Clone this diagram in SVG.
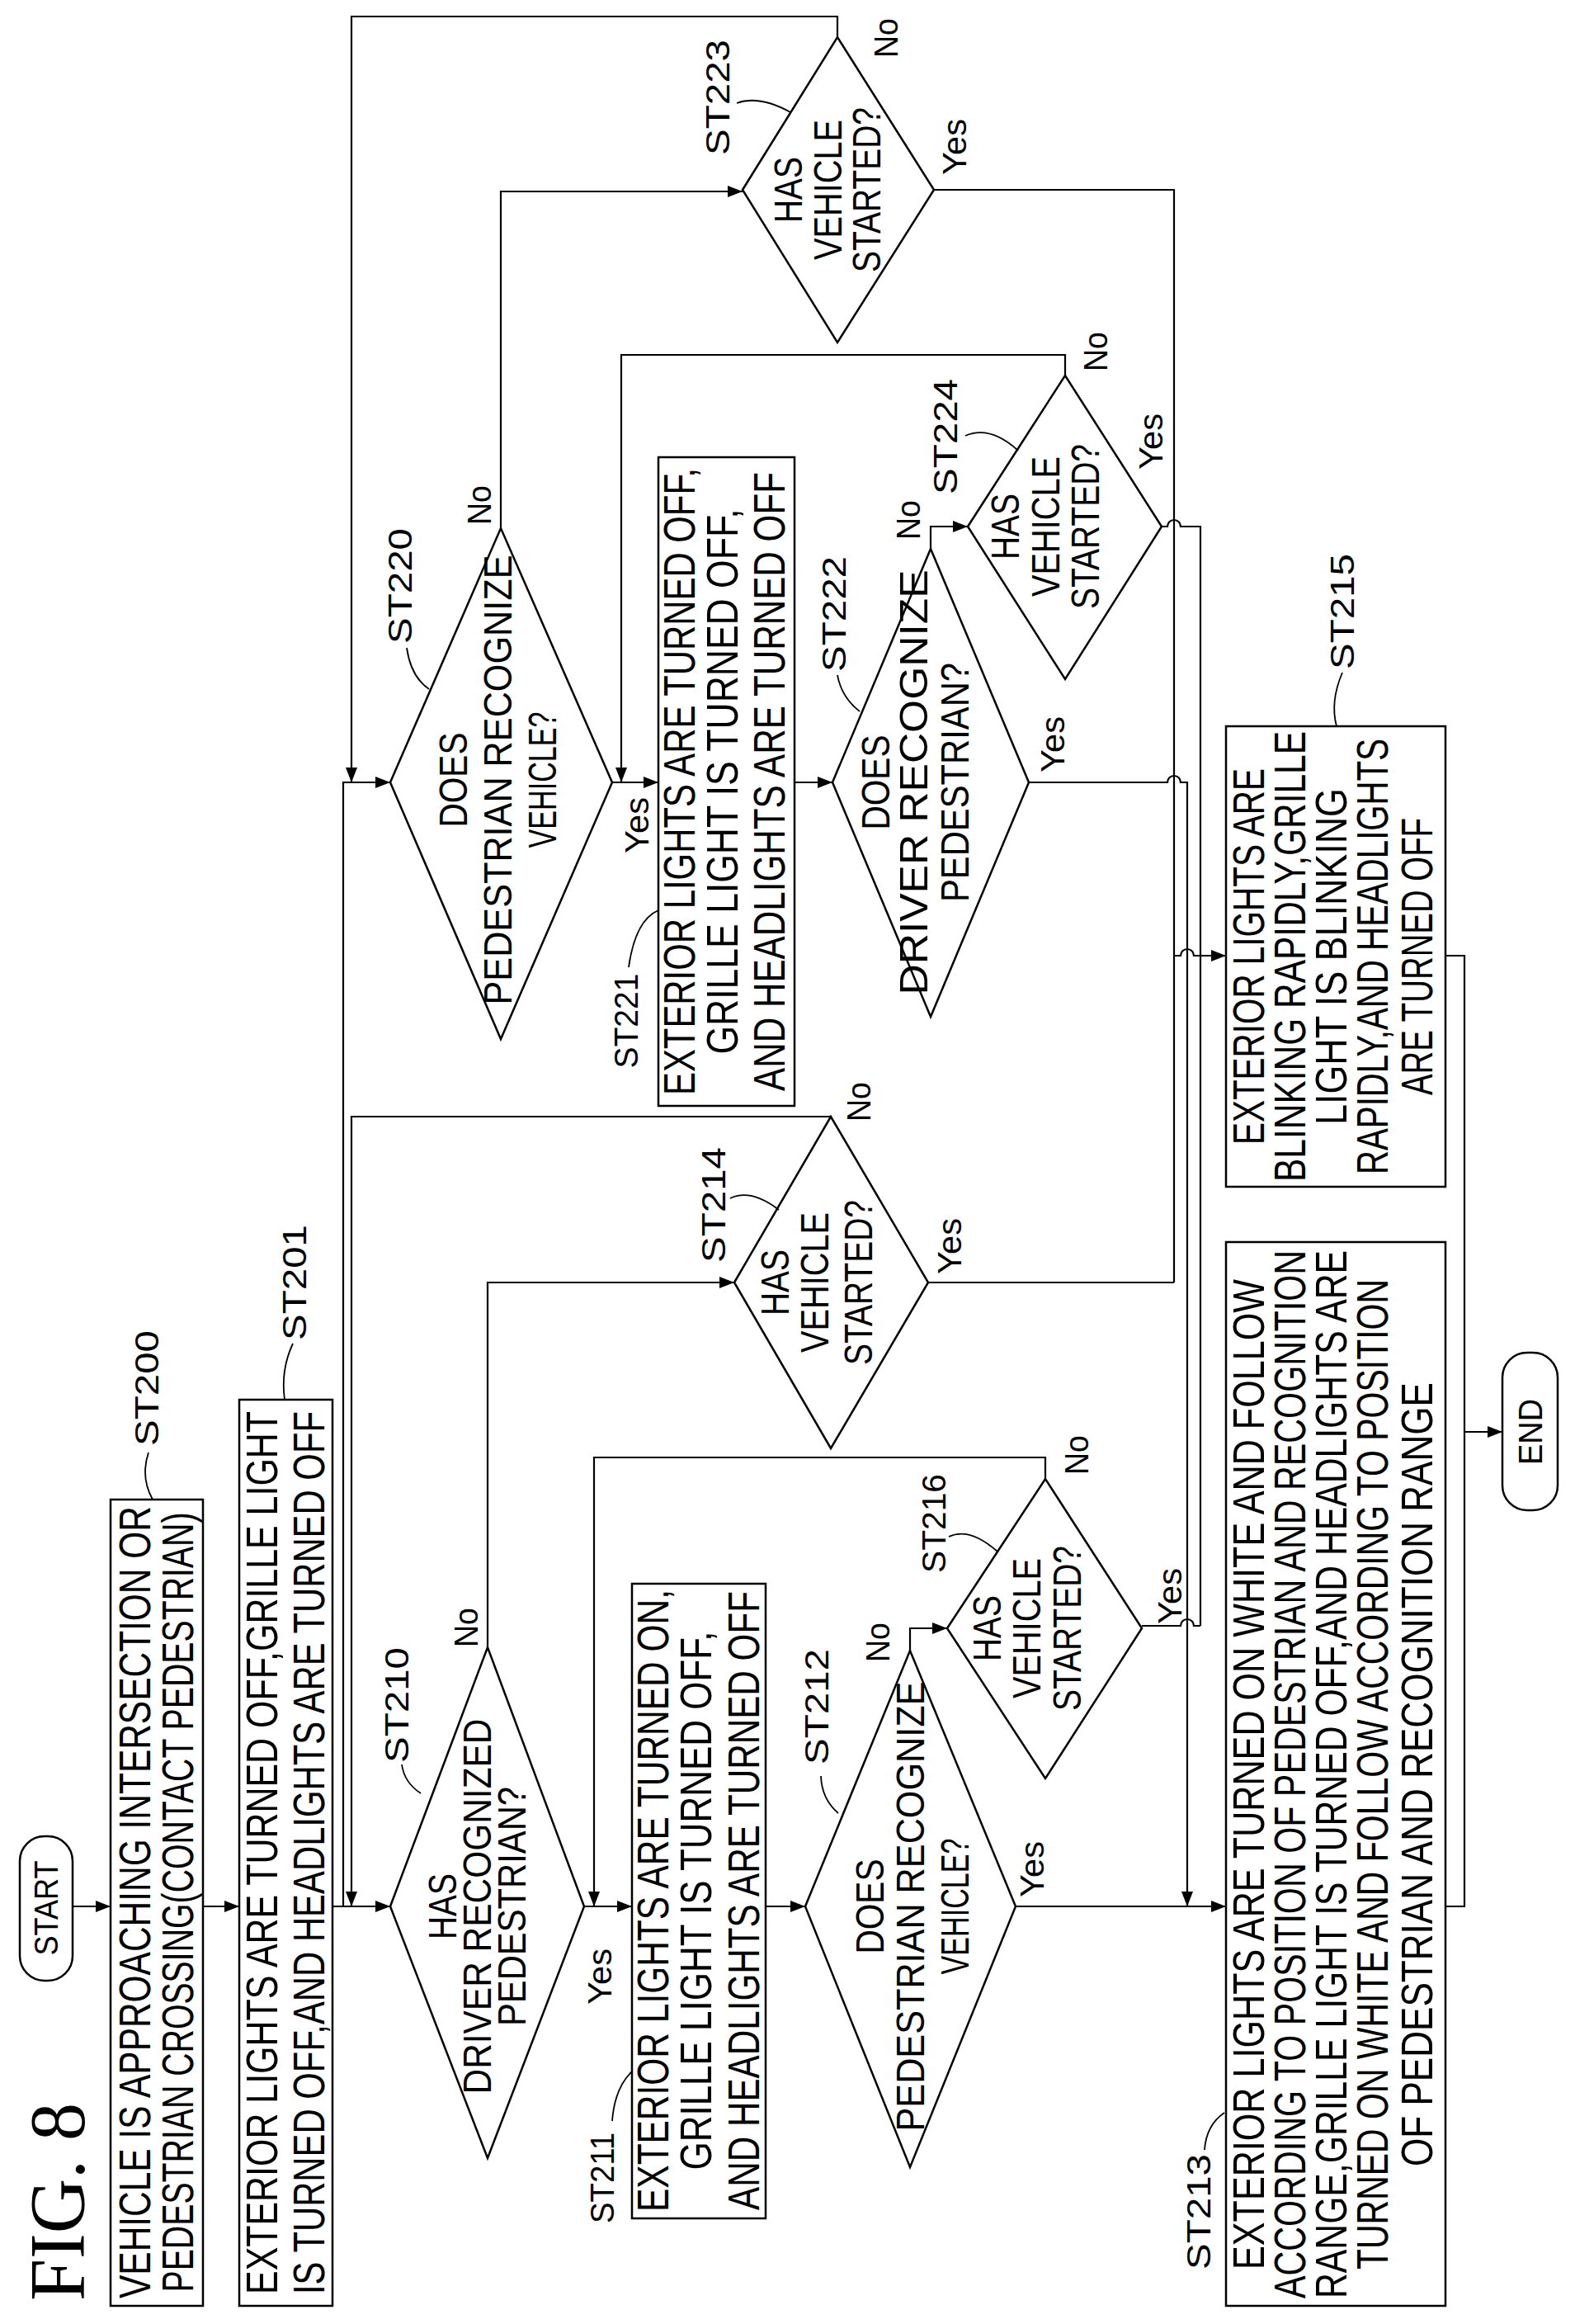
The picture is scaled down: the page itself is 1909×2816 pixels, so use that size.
<svg xmlns="http://www.w3.org/2000/svg" width="1909" height="2816" viewBox="0 0 1909 2816">
<style>
.s{fill:none;stroke:#000;stroke-width:2.5}
.c{fill:none;stroke:#000;stroke-width:2.2}
.l{fill:none;stroke:#000;stroke-width:1.8}
text{font-family:"Liberation Sans",Arial,sans-serif;text-anchor:middle;dominant-baseline:central;fill:#000}
.b{font-size:54px}
.d{font-size:48px}
.t{font-size:40px}
.f{font-family:"Liberation Serif","Times New Roman",serif;font-size:95px}
</style>
<defs>
<marker id="a" markerUnits="userSpaceOnUse" markerWidth="18" markerHeight="14" viewBox="0 0 18 14" refX="18" refY="7" orient="auto"><path d="M0,0 L18,7 L0,14 z" fill="#000"/></marker>
</defs>
<rect width="1909" height="2816" fill="#fff"/>
<text class="f" x="70" y="2668" transform="rotate(-90 70 2668)" textLength="240" lengthAdjust="spacingAndGlyphs">FIG. 8</text>

<g id="start"><rect class="s" x="24" y="2225" width="64" height="175" rx="30"/><text class="t" x="56" y="2312" transform="rotate(-90 56 2312)" textLength="115" lengthAdjust="spacingAndGlyphs">START</text></g>

<g id="st200"><rect class="s" x="134" y="1817" width="112" height="977"/>
<text class="b" x="163" y="2305" transform="rotate(-90 163 2305)" textLength="960" lengthAdjust="spacingAndGlyphs">VEHICLE IS APPROACHING INTERSECTION OR</text>
<text class="b" x="215" y="2305" transform="rotate(-90 215 2305)" textLength="945" lengthAdjust="spacingAndGlyphs">PEDESTRIAN CROSSING(CONTACT PEDESTRIAN)</text>
<path class="l" d="M185,1817 Q170,1790 180,1760"/>
<text class="t" x="178" y="1682" transform="rotate(-90 178 1682)" textLength="140" lengthAdjust="spacingAndGlyphs">ST200</text></g>

<g id="st201"><rect class="s" x="290" y="1696" width="113" height="1098"/>
<text class="b" x="317" y="2245" transform="rotate(-90 317 2245)" textLength="1070" lengthAdjust="spacingAndGlyphs">EXTERIOR LIGHTS ARE TURNED OFF,GRILLE LIGHT</text>
<text class="b" x="374" y="2245" transform="rotate(-90 374 2245)" textLength="1070" lengthAdjust="spacingAndGlyphs">IS TURNED OFF,AND HEADLIGHTS ARE TURNED OFF</text>
<path class="l" d="M345,1696 Q340,1660 355,1628"/>
<text class="t" x="357" y="1554" transform="rotate(-90 357 1554)" textLength="140" lengthAdjust="spacingAndGlyphs">ST201</text></g>

<g id="st210"><polygon class="s" points="473,2310 591,1996 708,2310 591,2615"/>
<text class="d" x="536" y="2310" transform="rotate(-90 536 2310)" textLength="80" lengthAdjust="spacingAndGlyphs">HAS</text>
<text class="d" x="578" y="2310" transform="rotate(-90 578 2310)" textLength="455" lengthAdjust="spacingAndGlyphs">DRIVER RECOGNIZED</text>
<text class="d" x="620" y="2310" transform="rotate(-90 620 2310)" textLength="290" lengthAdjust="spacingAndGlyphs">PEDESTRIAN?</text>
<path class="l" d="M510,2173 Q490,2160 487,2138"/>
<text class="t" x="481" y="2066" transform="rotate(-90 481 2066)" textLength="140" lengthAdjust="spacingAndGlyphs">ST210</text>
<text class="t" x="565" y="1972" transform="rotate(-90 565 1972)" textLength="48" lengthAdjust="spacingAndGlyphs">No</text>
<text class="t" x="727" y="2395" transform="rotate(-90 727 2395)" textLength="68" lengthAdjust="spacingAndGlyphs">Yes</text></g>

<g id="st211"><rect class="s" x="766" y="1919" width="162" height="769"/>
<text class="b" x="791" y="2303" transform="rotate(-90 791 2303)" textLength="754" lengthAdjust="spacingAndGlyphs">EXTERIOR LIGHTS ARE TURNED ON,</text>
<text class="b" x="843" y="2303" transform="rotate(-90 843 2303)" textLength="653" lengthAdjust="spacingAndGlyphs">GRILLE LIGHT IS TURNED OFF,</text>
<text class="b" x="901" y="2303" transform="rotate(-90 901 2303)" textLength="750" lengthAdjust="spacingAndGlyphs">AND HEADLIGHTS ARE TURNED OFF</text>
<path class="l" d="M742,2570 Q745,2530 766,2510"/>
<text class="t" x="730" y="2639" transform="rotate(-90 730 2639)" textLength="110" lengthAdjust="spacingAndGlyphs">ST211</text></g>

<g id="st212"><polygon class="s" points="976,2310 1103,2000 1231,2310 1103,2626"/>
<text class="d" x="1054" y="2310" transform="rotate(-90 1054 2310)" textLength="115" lengthAdjust="spacingAndGlyphs">DOES</text>
<text class="d" x="1103" y="2310" transform="rotate(-90 1103 2310)" textLength="545" lengthAdjust="spacingAndGlyphs">PEDESTRIAN RECOGNIZE</text>
<text class="d" x="1157" y="2310" transform="rotate(-90 1157 2310)" textLength="165" lengthAdjust="spacingAndGlyphs">VEHICLE?</text>
<path class="l" d="M1016,2197 Q996,2180 995,2152"/>
<text class="t" x="990" y="2068" transform="rotate(-90 990 2068)" textLength="140" lengthAdjust="spacingAndGlyphs">ST212</text>
<text class="t" x="1064" y="1990" transform="rotate(-90 1064 1990)" textLength="48" lengthAdjust="spacingAndGlyphs">No</text>
<text class="t" x="1251" y="2265" transform="rotate(-90 1251 2265)" textLength="68" lengthAdjust="spacingAndGlyphs">Yes</text></g>

<g id="st213"><rect class="s" x="1486" y="1505" width="266" height="1289"/>
<text class="b" x="1513" y="2150" transform="rotate(-90 1513 2150)" textLength="1200" lengthAdjust="spacingAndGlyphs">EXTERIOR LIGHTS ARE TURNED ON WHITE AND FOLLOW</text>
<text class="b" x="1563" y="2150" transform="rotate(-90 1563 2150)" textLength="1270" lengthAdjust="spacingAndGlyphs">ACCORDING TO POSITION OF PEDESTRIAN AND RECOGNITION</text>
<text class="b" x="1613" y="2150" transform="rotate(-90 1613 2150)" textLength="1270" lengthAdjust="spacingAndGlyphs">RANGE,GRILLE LIGHT IS TURNED OFF,AND HEADLIGHTS ARE</text>
<text class="b" x="1663" y="2150" transform="rotate(-90 1663 2150)" textLength="1200" lengthAdjust="spacingAndGlyphs">TURNED ON WHITE AND FOLLOW ACCORDING TO POSITION</text>
<text class="b" x="1717" y="2150" transform="rotate(-90 1717 2150)" textLength="950" lengthAdjust="spacingAndGlyphs">OF PEDESTRIAN AND RECOGNITION RANGE</text>
<path class="l" d="M1460,2605 Q1462,2575 1484,2560"/>
<text class="t" x="1453" y="2680" transform="rotate(-90 1453 2680)" textLength="140" lengthAdjust="spacingAndGlyphs">ST213</text></g>

<g id="st214"><polygon class="s" points="890,1554 1007,1353 1125,1554 1007,1755"/>
<text class="d" x="939" y="1554" transform="rotate(-90 939 1554)" textLength="80" lengthAdjust="spacingAndGlyphs">HAS</text>
<text class="d" x="987" y="1554" transform="rotate(-90 987 1554)" textLength="170" lengthAdjust="spacingAndGlyphs">VEHICLE</text>
<text class="d" x="1040" y="1554" transform="rotate(-90 1040 1554)" textLength="200" lengthAdjust="spacingAndGlyphs">STARTED?</text>
<path class="l" d="M885,1452 Q910,1440 944,1466"/>
<text class="t" x="865" y="1460" transform="rotate(-90 865 1460)" textLength="140" lengthAdjust="spacingAndGlyphs">ST214</text>
<text class="t" x="1041" y="1335" transform="rotate(-90 1041 1335)" textLength="48" lengthAdjust="spacingAndGlyphs">No</text>
<text class="t" x="1151" y="1510" transform="rotate(-90 1151 1510)" textLength="68" lengthAdjust="spacingAndGlyphs">Yes</text></g>

<g id="st215"><rect class="s" x="1486" y="880" width="266" height="558"/>
<text class="b" x="1513" y="1159" transform="rotate(-90 1513 1159)" textLength="456" lengthAdjust="spacingAndGlyphs">EXTERIOR LIGHTS ARE</text>
<text class="b" x="1563" y="1159" transform="rotate(-90 1563 1159)" textLength="546" lengthAdjust="spacingAndGlyphs">BLINKING RAPIDLY,GRILLE</text>
<text class="b" x="1613" y="1159" transform="rotate(-90 1613 1159)" textLength="408" lengthAdjust="spacingAndGlyphs">LIGHT IS BLINKING</text>
<text class="b" x="1663" y="1159" transform="rotate(-90 1663 1159)" textLength="528" lengthAdjust="spacingAndGlyphs">RAPIDLY,AND HEADLIGHTS</text>
<text class="b" x="1717" y="1159" transform="rotate(-90 1717 1159)" textLength="336" lengthAdjust="spacingAndGlyphs">ARE TURNED OFF</text>
<path class="l" d="M1620,880 Q1612,850 1627,815"/>
<text class="t" x="1627" y="741" transform="rotate(-90 1627 741)" textLength="140" lengthAdjust="spacingAndGlyphs">ST215</text></g>

<g id="st216"><polygon class="s" points="1148,1973 1267,1792 1384,1973 1267,2155"/>
<text class="d" x="1196" y="1973" transform="rotate(-90 1196 1973)" textLength="80" lengthAdjust="spacingAndGlyphs">HAS</text>
<text class="d" x="1244" y="1973" transform="rotate(-90 1244 1973)" textLength="170" lengthAdjust="spacingAndGlyphs">VEHICLE</text>
<text class="d" x="1293" y="1973" transform="rotate(-90 1293 1973)" textLength="200" lengthAdjust="spacingAndGlyphs">STARTED?</text>
<path class="l" d="M1150,1862 Q1175,1850 1209,1880"/>
<text class="t" x="1132" y="1846" transform="rotate(-90 1132 1846)" textLength="120" lengthAdjust="spacingAndGlyphs">ST216</text>
<text class="t" x="1305" y="1763" transform="rotate(-90 1305 1763)" textLength="48" lengthAdjust="spacingAndGlyphs">No</text>
<text class="t" x="1418" y="1934" transform="rotate(-90 1418 1934)" textLength="68" lengthAdjust="spacingAndGlyphs">Yes</text></g>

<g id="st220"><polygon class="s" points="473,948 607,640 742,948 607,1259"/>
<text class="d" x="549" y="945" transform="rotate(-90 549 945)" textLength="115" lengthAdjust="spacingAndGlyphs">DOES</text>
<text class="d" x="603" y="945" transform="rotate(-90 603 945)" textLength="545" lengthAdjust="spacingAndGlyphs">PEDESTRIAN RECOGNIZE</text>
<text class="d" x="657" y="945" transform="rotate(-90 657 945)" textLength="165" lengthAdjust="spacingAndGlyphs">VEHICLE?</text>
<path class="l" d="M520,835 Q498,820 493,785"/>
<text class="t" x="485" y="710" transform="rotate(-90 485 710)" textLength="140" lengthAdjust="spacingAndGlyphs">ST220</text>
<text class="t" x="581" y="612" transform="rotate(-90 581 612)" textLength="48" lengthAdjust="spacingAndGlyphs">No</text>
<text class="t" x="772" y="1000" transform="rotate(-90 772 1000)" textLength="68" lengthAdjust="spacingAndGlyphs">Yes</text></g>

<g id="st221"><rect class="s" x="798" y="554" width="165" height="786"/>
<text class="b" x="823" y="947" transform="rotate(-90 823 947)" textLength="760" lengthAdjust="spacingAndGlyphs">EXTERIOR LIGHTS ARE TURNED OFF,</text>
<text class="b" x="875" y="947" transform="rotate(-90 875 947)" textLength="661" lengthAdjust="spacingAndGlyphs">GRILLE LIGHT IS TURNED OFF,</text>
<text class="b" x="932" y="947" transform="rotate(-90 932 947)" textLength="750" lengthAdjust="spacingAndGlyphs">AND HEADLIGHTS ARE TURNED OFF</text>
<path class="l" d="M762,1172 Q770,1115 798,1103"/>
<text class="t" x="759" y="1237" transform="rotate(-90 759 1237)" textLength="115" lengthAdjust="spacingAndGlyphs">ST221</text></g>

<g id="st222"><polygon class="s" points="1009,948 1128,665 1247,948 1128,1232"/>
<text class="d" x="1061" y="948" transform="rotate(-90 1061 948)" textLength="115" lengthAdjust="spacingAndGlyphs">DOES</text>
<text class="d" x="1107" y="948" transform="rotate(-90 1107 948)" textLength="515" lengthAdjust="spacingAndGlyphs">DRIVER RECOGNIZE</text>
<text class="d" x="1157" y="948" transform="rotate(-90 1157 948)" textLength="290" lengthAdjust="spacingAndGlyphs">PEDESTRIAN?</text>
<path class="l" d="M1042,862 Q1020,845 1015,818"/>
<text class="t" x="1011" y="744" transform="rotate(-90 1011 744)" textLength="140" lengthAdjust="spacingAndGlyphs">ST222</text>
<text class="t" x="1101" y="630" transform="rotate(-90 1101 630)" textLength="48" lengthAdjust="spacingAndGlyphs">No</text>
<text class="t" x="1276" y="902" transform="rotate(-90 1276 902)" textLength="68" lengthAdjust="spacingAndGlyphs">Yes</text></g>

<g id="st223"><polygon class="s" points="900,230 1015,45 1132,230 1015,415"/>
<text class="d" x="955" y="230" transform="rotate(-90 955 230)" textLength="80" lengthAdjust="spacingAndGlyphs">HAS</text>
<text class="d" x="1003" y="230" transform="rotate(-90 1003 230)" textLength="170" lengthAdjust="spacingAndGlyphs">VEHICLE</text>
<text class="d" x="1050" y="230" transform="rotate(-90 1050 230)" textLength="200" lengthAdjust="spacingAndGlyphs">STARTED?</text>
<path class="l" d="M893,125 Q920,115 958,136"/>
<text class="t" x="870" y="118" transform="rotate(-90 870 118)" textLength="140" lengthAdjust="spacingAndGlyphs">ST223</text>
<text class="t" x="1074" y="46" transform="rotate(-90 1074 46)" textLength="48" lengthAdjust="spacingAndGlyphs">No</text>
<text class="t" x="1157" y="178" transform="rotate(-90 1157 178)" textLength="68" lengthAdjust="spacingAndGlyphs">Yes</text></g>

<g id="st224"><polygon class="s" points="1173,638 1291,455 1408,638 1291,823"/>
<text class="d" x="1218" y="638" transform="rotate(-90 1218 638)" textLength="80" lengthAdjust="spacingAndGlyphs">HAS</text>
<text class="d" x="1267" y="638" transform="rotate(-90 1267 638)" textLength="170" lengthAdjust="spacingAndGlyphs">VEHICLE</text>
<text class="d" x="1315" y="638" transform="rotate(-90 1315 638)" textLength="200" lengthAdjust="spacingAndGlyphs">STARTED?</text>
<path class="l" d="M1170,528 Q1200,515 1234,546"/>
<text class="t" x="1146" y="529" transform="rotate(-90 1146 529)" textLength="140" lengthAdjust="spacingAndGlyphs">ST224</text>
<text class="t" x="1328" y="426" transform="rotate(-90 1328 426)" textLength="48" lengthAdjust="spacingAndGlyphs">No</text>
<text class="t" x="1395" y="535" transform="rotate(-90 1395 535)" textLength="68" lengthAdjust="spacingAndGlyphs">Yes</text></g>

<g id="end"><rect class="s" x="1821" y="1639" width="67" height="191" rx="30"/><text class="t" x="1855" y="1735" transform="rotate(-90 1855 1735)" textLength="80" lengthAdjust="spacingAndGlyphs">END</text></g>

<g id="connectors">
<path class="c" marker-end="url(#a)" d="M88,2310 H134"/>
<path class="c" marker-end="url(#a)" d="M246,2310 H290"/>
<path class="c" marker-end="url(#a)" d="M403,2310 H473"/>
<path class="c" marker-end="url(#a)" d="M416,2310 V948 H473"/>
<path class="c" marker-end="url(#a)" d="M1015,45 V20 H426 V948"/>
<path class="c" marker-end="url(#a)" d="M1007,1353 H426 V2310"/>
<path class="c" marker-end="url(#a)" d="M607,640 V232 H900"/>
<path class="c" marker-end="url(#a)" d="M742,948 H798"/>
<path class="c" marker-end="url(#a)" d="M1291,455 V430 H753 V948"/>
<path class="c" marker-end="url(#a)" d="M963,948 H1009"/>
<path class="c" marker-end="url(#a)" d="M1128,665 V638 H1173"/>
<path class="c" d="M1132,230 H1423 V1554"/>
<path class="c" d="M1125,1554 H1423"/>
<path class="c" marker-end="url(#a)" d="M1423,1158 H1431 a8,8 0 0 1 16,0 H1486"/>
<path class="c" d="M1408,638 H1415 a8,8 0 0 1 16,0 H1455 V1970"/>
<path class="c" d="M1384,1970 H1431 a8,8 0 0 1 16,0 H1455"/>
<path class="c" marker-end="url(#a)" d="M1247,948 H1415 a8,8 0 0 1 16,0 H1439 V2310"/>
<path class="c" marker-end="url(#a)" d="M1231,2310 H1486"/>
<path class="c" marker-end="url(#a)" d="M591,1996 V1554 H890"/>
<path class="c" marker-end="url(#a)" d="M708,2310 H766"/>
<path class="c" marker-end="url(#a)" d="M1267,1792 V1766 H720 V2310"/>
<path class="c" marker-end="url(#a)" d="M928,2310 H976"/>
<path class="c" marker-end="url(#a)" d="M1103,2000 V1973 H1148"/>
<path class="c" d="M1752,1158 H1775 V2310 H1752"/>
<path class="c" marker-end="url(#a)" d="M1775,1735 H1821"/>
</g>
</svg>
